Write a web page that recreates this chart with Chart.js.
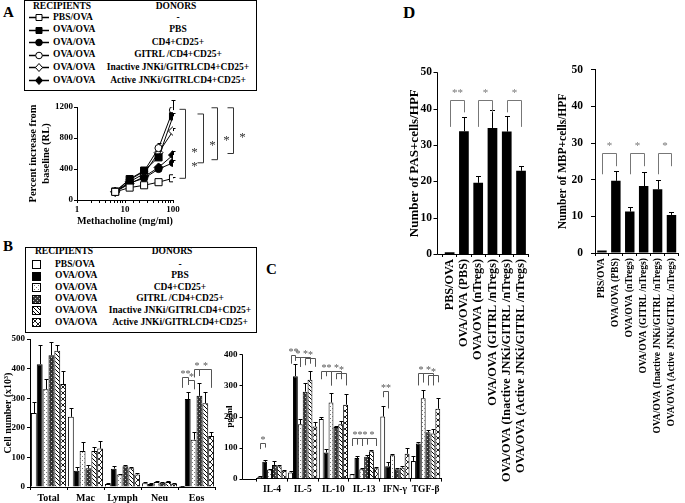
<!DOCTYPE html>
<html>
<head>
<meta charset="utf-8">
<title>Figure - nTregs / JNKi</title>
<script src="https://cdn.jsdelivr.net/npm/chart.js@4.4.1/dist/chart.umd.min.js"></script>
<style>
  body { margin:0; width:685px; height:503px; position:relative; overflow:hidden; background:#fff;
         font-family:'Liberation Serif','Times New Roman',serif; font-weight:bold; color:#000; }
  canvas.panel { position:absolute; }
  .box { position:absolute; border:1px solid #000; box-sizing:border-box; }
  .box span { position:absolute; font-size:9.5px; white-space:nowrap; line-height:1; }
  .box canvas { position:absolute; }
  .tag { position:absolute; font-size:15px; line-height:15px; }
</style>
</head>
<body>
<div class="tag" style="left:3px;top:5px">A</div>
<div class="tag" style="left:3px;top:239px">B</div>
<div class="tag" style="left:266px;top:262px">C</div>
<div class="tag" style="left:403px;top:5px;font-size:17px">D</div>

<div id="legA" class="box" style="left:24px;top:0;width:233px;height:91px"></div>
<div id="legB" class="box" style="left:25px;top:247px;width:232px;height:86px"></div>

<canvas id="chartA" class="panel" width="262" height="134" style="left:0;top:96px"></canvas>
<canvas id="chartB" class="panel" width="232" height="173" style="left:0;top:330px"></canvas>
<canvas id="chartC" class="panel" width="243" height="173" style="left:222px;top:330px"></canvas>
<canvas id="chartPas" class="panel" width="143" height="448" style="left:395px;top:55px"></canvas>
<canvas id="chartMbp" class="panel" width="130" height="448" style="left:555px;top:55px"></canvas>

<script>
// ---- legend text ----
const recipients = ['PBS/OVA', 'OVA/OVA', 'OVA/OVA', 'OVA/OVA', 'OVA/OVA', 'OVA/OVA'];
const donors = ['-', 'PBS', 'CD4+CD25+', 'GITRL /CD4+CD25+', 'Inactive JNKi/GITRLCD4+CD25+', 'Active JNKi/GITRLCD4+CD25+'];

// ---- A: airway resistance vs methacholine ----
const doses = [6.25, 12.5, 25, 50, 100];
const ahrPbsOva   = [105, 160, 190, 230, 280];
const ahrPbs      = [110, 270, 380, 550, 1080];
const ahrCd4      = [105, 220, 280, 400, 480];
const ahrGitrl    = [110, 260, 370, 670, 1160];
const ahrInactive = [105, 235, 340, 610, 890];
const ahrActive   = [105, 210, 300, 420, 580];
const ahrErrPbsOva   = [5, 10, 10, 15, 20];
const ahrErrPbs      = [10, 20, 40, 50, 40];
const ahrErrCd4      = [10, 20, 30, 30, 30];
const ahrErrGitrl    = [10, 20, 50, 60, 130];
const ahrErrInactive = [10, 20, 30, 40, 40];
const ahrErrActive   = [10, 20, 30, 40, 50];

// ---- B: BAL cell counts (x10^3) ----
const cellTypes = ['Total', 'Mac', 'Lymph', 'Neu', 'Eos'];
const cellPbsOva   = [250, 237, 10, 13, 3];
const cellPbs      = [415, 55, 62, 10, 297];
const cellCd4      = [330, 122, 42, 17, 160];
const cellGitrl    = [445, 63, 70, 14, 308];
const cellInactive = [460, 122, 63, 17, 283];
const cellActive   = [348, 130, 42, 11, 172];
const cellErrPbsOva   = [37, 30, 2, 3, 1];
const cellErrPbs      = [65, 12, 10, 2, 25];
const cellErrCd4      = [35, 30, 3, 2, 25];
const cellErrGitrl    = [45, 12, 6, 3, 45];
const cellErrInactive = [20, 12, 6, 3, 38];
const cellErrActive   = [44, 27, 4, 2, 14];

// ---- C: cytokines (pg/ml) ----
const cytokines = ['IL-4', 'IL-5', 'IL-10', 'IL-13', 'IFN-γ', 'TGF-β'];
const cytoPbsOva   = [6, 20, 192, 14, 200, 57];
const cytoPbs      = [54, 330, 84, 66, 40, 113];
const cytoCd4      = [29, 175, 245, 30, 75, 259];
const cytoGitrl    = [44, 280, 166, 70, 30, 149];
const cytoInactive = [40, 318, 175, 88, 35, 145];
const cytoActive   = [25, 168, 238, 33, 80, 225];
const cytoErrPbsOva   = [2, 3, 8, 2, 35, 15];
const cytoErrPbs      = [7, 40, 10, 6, 15, 5];
const cytoErrCd4      = [3, 16, 30, 3, 3, 27];
const cytoErrGitrl    = [12, 28, 4, 5, 4, 6];
const cytoErrInactive = [3, 28, 12, 3, 4, 16];
const cytoErrActive   = [3, 15, 33, 4, 18, 33];

// ---- D: PAS+ and MBP+ cells per HPF ----
const histoGroups = ['PBS/OVA', 'OVA/OVA (PBS)', 'OVA/OVA (nTregs)', 'OVA/OVA (GITRL /nTregs)',
                     'OVA/OVA (Inactive JNKi/GITRL /nTregs)', 'OVA/OVA (Active JNKi/GITRL /nTregs)'];
const pasCells = [0.5, 33.8, 19.6, 34.7, 33.7, 22.9];
const pasErr   = [0, 3.8, 2, 5, 4.3, 1.3];
const mbpCells = [0.7, 19.7, 11.3, 18.3, 17.4, 10.4];
const mbpErr   = [0, 2.7, 1.3, 3.7, 2.5, 0.8];

// ------------------------------------------------------------------
const FONT = "'Liberation Serif', 'Times New Roman', serif";
Chart.defaults.font.family = FONT;
Chart.defaults.font.weight = 'bold';
Chart.defaults.color = '#000';
Chart.defaults.animation = false;

function makePattern(kind) {
  const c = document.createElement('canvas');
  const g = c.getContext('2d');
  const n = kind === 'cross' ? 6 : 4;
  c.width = c.height = n;
  g.fillStyle = kind === 'checker' ? '#333' : '#fff';
  g.fillRect(0, 0, n, n);
  if (kind === 'dots') {
    g.fillStyle = '#777';
    g.fillRect(0, 0, 1, 1); g.fillRect(2, 2, 1, 1);
  } else if (kind === 'checker') {
    g.fillStyle = '#c8c8c8';
    g.fillRect(1, 1, 1, 1); g.fillRect(3, 3, 1, 1);
  } else if (kind === 'diag') {
    g.strokeStyle = '#000'; g.lineWidth = 1;
    g.beginPath();
    g.moveTo(-1, -1); g.lineTo(5, 5);
    g.moveTo(-1, 3); g.lineTo(1, 5);
    g.moveTo(3, -1); g.lineTo(5, 1);
    g.stroke();
  } else if (kind === 'cross') {
    g.strokeStyle = '#000'; g.lineWidth = 0.9;
    g.beginPath();
    g.moveTo(0, 0); g.lineTo(6, 6);
    g.moveTo(6, 0); g.lineTo(0, 6);
    g.stroke();
  }
  return g.createPattern(c, 'repeat');
}

const fills = ['#fff', '#000', makePattern('dots'), makePattern('checker'), makePattern('diag'), makePattern('cross')];
const markers = [
  { shape: 'rect', r: 5, fill: '#fff' },
  { shape: 'rect', r: 5, fill: '#000' },
  { shape: 'circle', r: 3.6, fill: '#000' },
  { shape: 'circle', r: 3.6, fill: '#fff' },
  { shape: 'rectRot', r: 4.5, fill: '#fff' },
  { shape: 'rectRot', r: 4.5, fill: '#000' }
];

// error bars, brackets and detached y axis
const extras = {
  id: 'extras',
  beforeDatasetsDraw(chart) {
    const ctx = chart.ctx, ys = chart.scales.y;
    ctx.save();
    ctx.strokeStyle = '#000';
    ctx.lineWidth = 1;
    chart.data.datasets.forEach((ds, i) => {
      if (!ds.err) return;
      chart.getDatasetMeta(i).data.forEach((el, j) => {
        const e = ds.err[j];
        if (!e) return;
        const x = Math.round(el.x) + 0.5;
        const top = Math.round(ys.getPixelForValue(ds.data[j] + e)) + 0.5;
        const cap = ds.errCap || 2;
        ctx.beginPath();
        ctx.moveTo(x, el.y); ctx.lineTo(x, top);
        ctx.moveTo(x - cap, top); ctx.lineTo(x + cap, top);
        ctx.stroke();
      });
    });
    ctx.restore();
  },
  afterDraw(chart, args, opts) {
    const o = opts || {};
    const ctx = chart.ctx, ca = chart.chartArea, ys = chart.scales.y;
    ctx.save();
    ctx.lineWidth = 1;
    if (o.gap) {
      const xl = Math.round(ca.left - o.gap) + 0.5, yb = Math.round(ca.bottom) + 0.5;
      ctx.strokeStyle = '#000';
      ctx.beginPath();
      ctx.moveTo(xl, ca.top); ctx.lineTo(xl, yb); ctx.lineTo(ca.left, yb);
      ys.ticks.forEach(t => {
        const py = Math.round(ys.getPixelForValue(t.value)) + 0.5;
        ctx.moveTo(xl - o.tick, py); ctx.lineTo(xl, py);
      });
      ctx.stroke();
    }
    const col = o.color || '#555';
    ctx.strokeStyle = col;
    ctx.fillStyle = col;
    ctx.font = (o.starSize || 11) + 'px ' + FONT;
    ctx.textAlign = 'center';
    (o.brackets || []).forEach(b => {
      const xa = Math.round(chart.getDatasetMeta(b.a[0]).data[b.a[1]].x) + 0.5;
      const xb = Math.round(chart.getDatasetMeta(b.b[0]).data[b.b[1]].x) + 0.5;
      const yt = Math.round(ys.getPixelForValue(b.top)) + 0.5;
      ctx.beginPath();
      ctx.moveTo(xa, ys.getPixelForValue(b.la)); ctx.lineTo(xa, yt);
      ctx.lineTo(xb, yt); ctx.lineTo(xb, ys.getPixelForValue(b.lb));
      ctx.stroke();
      ctx.fillText(b.text, (xa + xb) / 2, yt - (o.starGap || 1));
    });
    (o.vbrackets || []).forEach(b => {
      const x = Math.round(ca.right + b.dx) + 0.5;
      const y1 = ys.getPixelForValue(b.top), y2 = ys.getPixelForValue(b.bottom);
      ctx.beginPath();
      ctx.moveTo(x - 6, y1); ctx.lineTo(x, y1); ctx.lineTo(x, y2); ctx.lineTo(x - 6, y2);
      ctx.stroke();
      b.stars.forEach(v => ctx.fillText('*', x + 9, ys.getPixelForValue(v) + 6));
    });
    ctx.restore();
  }
};
Chart.register(extras);

// ---- legends ----
function legendText(box, text, x, y, centered) {
  const s = document.createElement('span');
  s.textContent = text;
  s.style.left = x + 'px';
  s.style.top = y + 'px';
  s.style.transform = centered ? 'translate(-50%,-50%)' : 'translate(0,-50%)';
  box.appendChild(s);
}
function legendSwatch(box, x, y, w, h, paint) {
  const c = document.createElement('canvas');
  c.width = w; c.height = h;
  c.style.left = (x - w / 2) + 'px';
  c.style.top = (y - h / 2) + 'px';
  paint(c.getContext('2d'), w, h);
  box.appendChild(c);
}
function drawMarker(g, m, x, y) {
  g.fillStyle = m.fill; g.strokeStyle = '#000'; g.lineWidth = 1;
  g.beginPath();
  if (m.shape === 'rect') g.rect(x - 3, y - 3, 6, 6);
  else if (m.shape === 'circle') g.arc(x, y, 3.3, 0, Math.PI * 2);
  else { g.moveTo(x, y - 4); g.lineTo(x + 3.5, y); g.lineTo(x, y + 4); g.lineTo(x - 3.5, y); g.closePath(); }
  g.fill(); g.stroke();
}

const legA = document.getElementById('legA');
legendText(legA, 'RECIPIENTS', 8, 6);
legendText(legA, 'DONORS', 151, 6, true);
recipients.forEach((r, i) => {
  const cy = 16.5 + i * 12.6;
  legendSwatch(legA, 14, cy, 20, 11, (g, w, h) => {
    g.strokeStyle = '#000'; g.lineWidth = 1.5;
    g.beginPath(); g.moveTo(0, 5.5); g.lineTo(w, 5.5); g.stroke();
    drawMarker(g, markers[i], 10, 5.5);
  });
  legendText(legA, r, 28, cy);
  legendText(legA, donors[i], 153, cy, true);
});

const legB = document.getElementById('legB');
legendText(legB, 'RECIPIENTS', 9, 4);
legendText(legB, 'DONORS', 146, 4, true);
recipients.forEach((r, i) => {
  const cy = 16.5 + i * 11.6;
  legendSwatch(legB, 10, cy, 9, 9, (g, w, h) => {
    g.fillStyle = fills[i]; g.fillRect(0, 0, w, h);
    g.strokeStyle = '#000'; g.lineWidth = 1; g.strokeRect(0.5, 0.5, w - 1, h - 1);
  });
  legendText(legB, r, 29, cy);
  legendText(legB, donors[i], 154, cy, true);
});

// ---- panel A ----
const ahrSeries = [ahrPbsOva, ahrPbs, ahrCd4, ahrGitrl, ahrInactive, ahrActive];
const ahrErrors = [ahrErrPbsOva, ahrErrPbs, ahrErrCd4, ahrErrGitrl, ahrErrInactive, ahrErrActive];
new Chart(document.getElementById('chartA'), {
  type: 'line',
  data: {
    labels: doses,
    datasets: ahrSeries.map((s, i) => ({
      data: s, err: ahrErrors[i], errCap: 2,
      borderColor: '#000', borderWidth: 1, tension: 0, fill: false,
      pointStyle: markers[i].shape, pointRadius: markers[i].r,
      pointBackgroundColor: markers[i].fill, pointBorderColor: '#000', pointBorderWidth: 1
    }))
  },
  options: {
    responsive: false,
    layout: { padding: { top: 11, right: 89, left: 0, bottom: 0 } },
    plugins: {
      legend: { display: false }, tooltip: { enabled: false },
      extras: {
        color: '#333', starSize: 13,
        vbrackets: [
          { dx: 12, top: 1170, bottom: 280, stars: [650, 460] },
          { dx: 30, top: 1110, bottom: 480, stars: [740] },
          { dx: 44, top: 1190, bottom: 520, stars: [800] },
          { dx: 60, top: 1190, bottom: 600, stars: [840] }
        ]
      }
    },
    scales: {
      x: {
        type: 'logarithmic', min: 1, max: 100,
        afterFit: s => { s.height = 30; },
        border: { color: '#000' },
        grid: { drawOnChartArea: false, color: '#000', tickLength: 3 },
        ticks: { autoSkip: false, maxRotation: 0, font: { size: 9 }, padding: 1,
                 callback: v => ([1, 10, 100].includes(v) ? String(v) : '') },
        title: { display: true, text: 'Methacholine (mg/ml)', font: { size: 10.5 }, padding: { top: 0, bottom: 2 } }
      },
      y: {
        min: 0, max: 1200,
        afterFit: s => { s.width = 77; },
        border: { color: '#000' },
        grid: { drawOnChartArea: false, color: '#000', tickLength: 3 },
        ticks: { stepSize: 400, font: { size: 9 }, padding: 1, callback: v => String(v) },
        title: { display: true, text: ['Percent increase from', 'baseline (RL)'], font: { size: 10.5 },
                 padding: { top: 27, bottom: 0 } }
      }
    }
  }
});

// ---- grouped bars (B, C) ----
function groupedSets(series, errors) {
  return series.map((s, i) => ({
    data: s, err: errors[i], errCap: 2,
    backgroundColor: fills[i], borderColor: '#000', borderWidth: 1,
    categoryPercentage: 0.95, barPercentage: 1
  }));
}

new Chart(document.getElementById('chartB'), {
  type: 'bar',
  data: {
    labels: cellTypes,
    datasets: groupedSets(
      [cellPbsOva, cellPbs, cellCd4, cellGitrl, cellInactive, cellActive],
      [cellErrPbsOva, cellErrPbs, cellErrCd4, cellErrGitrl, cellErrInactive, cellErrActive])
  },
  options: {
    responsive: false,
    layout: { padding: { top: 9, right: 17, left: 0, bottom: 0 } },
    plugins: {
      legend: { display: false }, tooltip: { enabled: false },
      extras: {
        starSize: 10, starGap: 1,
        brackets: [
          { a: [0, 4], b: [1, 4], top: 370, la: 335, lb: 345, text: '**' },
          { a: [1, 4], b: [2, 4], top: 362, la: 345, lb: 330, text: '*' },
          { a: [2, 4], b: [3, 4], top: 397, la: 370, lb: 375, text: '*' },
          { a: [3, 4], b: [5, 4], top: 397, la: 375, lb: 335, text: '*' }
        ]
      }
    },
    scales: {
      x: {
        afterFit: s => { s.height = 16; },
        border: { color: '#000' },
        grid: { drawOnChartArea: false, color: '#000', tickLength: 3 },
        ticks: { font: { size: 10 }, padding: 2, maxRotation: 0, autoSkip: false }
      },
      y: {
        min: 0, max: 500,
        afterFit: s => { s.width = 30; },
        border: { color: '#000' },
        grid: { drawOnChartArea: false, color: '#000', tickLength: 3 },
        ticks: { stepSize: 100, font: { size: 9 }, padding: 2 },
        title: { display: true, text: 'Cell number (x10³)', font: { size: 10 }, padding: { top: 2, bottom: 0 } }
      }
    }
  }
});

new Chart(document.getElementById('chartC'), {
  type: 'bar',
  data: {
    labels: cytokines,
    datasets: groupedSets(
      [cytoPbsOva, cytoPbs, cytoCd4, cytoGitrl, cytoInactive, cytoActive],
      [cytoErrPbsOva, cytoErrPbs, cytoErrCd4, cytoErrGitrl, cytoErrInactive, cytoErrActive])
  },
  options: {
    responsive: false,
    layout: { padding: { top: 10, right: 24, left: 0, bottom: 0 } },
    plugins: {
      legend: { display: false }, tooltip: { enabled: false },
      extras: {
        gap: 14.6, tick: 3, starSize: 10, starGap: 1,
        brackets: [
          { a: [0, 0], b: [1, 0], top: 116, la: 95, lb: 100, text: '*' },
          { a: [0, 1], b: [1, 1], top: 397, la: 370, lb: 380, text: '**' },
          { a: [1, 1], b: [2, 1], top: 392, la: 380, lb: 360, text: '*' },
          { a: [2, 1], b: [4, 1], top: 392, la: 360, lb: 370, text: '*' },
          { a: [3, 1], b: [5, 1], top: 387, la: 365, lb: 360, text: '*' },
          { a: [0, 2], b: [1, 2], top: 345, la: 320, lb: 330, text: '*' },
          { a: [1, 2], b: [2, 2], top: 345, la: 330, lb: 300, text: '*' },
          { a: [2, 2], b: [4, 2], top: 345, la: 300, lb: 320, text: '*' },
          { a: [3, 2], b: [5, 2], top: 340, la: 320, lb: 300, text: '*' },
          { a: [0, 3], b: [1, 3], top: 132, la: 105, lb: 110, text: '*' },
          { a: [1, 3], b: [2, 3], top: 132, la: 110, lb: 105, text: '*' },
          { a: [2, 3], b: [3, 3], top: 132, la: 105, lb: 110, text: '*' },
          { a: [3, 3], b: [5, 3], top: 132, la: 110, lb: 105, text: '*' },
          { a: [0, 4], b: [1, 4], top: 281, la: 262, lb: 226, text: '**' },
          { a: [1, 5], b: [2, 5], top: 340, la: 300, lb: 310, text: '*' },
          { a: [2, 5], b: [4, 5], top: 340, la: 310, lb: 300, text: '*' },
          { a: [3, 5], b: [5, 5], top: 335, la: 300, lb: 310, text: '*' }
        ]
      }
    },
    scales: {
      x: {
        afterFit: s => { s.height = 18; },
        border: { color: '#000' },
        grid: { drawOnChartArea: false, color: '#000', tickLength: 3 },
        ticks: { font: { size: 9.5 }, padding: 2, maxRotation: 0, autoSkip: false }
      },
      y: {
        min: 0, max: 400,
        afterFit: s => { s.width = 34.6; },
        border: { display: false },
        grid: { display: false, drawTicks: false },
        ticks: { stepSize: 100, font: { size: 9 }, padding: 19 },
        title: { display: true, text: 'pg/ml', font: { size: 9 }, padding: { top: 2.6, bottom: 0 } }
      }
    }
  }
});

// ---- panel D ----
function histoChart(id, values, errors, o) {
  return new Chart(document.getElementById(id), {
    type: 'bar',
    data: {
      labels: histoGroups,
      datasets: [{ data: values, err: errors, errCap: 2.5, backgroundColor: '#000',
                   borderWidth: 0, categoryPercentage: 1, barPercentage: 0.68 }]
    },
    options: {
      responsive: false,
      layout: { padding: { top: o.top, right: o.right, left: 0, bottom: 0 } },
      plugins: {
        legend: { display: false }, tooltip: { enabled: false },
        extras: { gap: o.gap, tick: 4, color: '#777', starSize: 11, starGap: 5, brackets: o.brackets }
      },
      scales: {
        x: {
          afterFit: s => { s.height = o.xHeight; },
          border: { color: '#000' },
          grid: { drawOnChartArea: false, color: '#000', tickLength: 3 },
          ticks: { font: { size: o.labelSize }, padding: 2, minRotation: 90, maxRotation: 90, autoSkip: false }
        },
        y: {
          min: 0, max: 50,
          afterFit: s => { s.width = o.yWidth; },
          border: { display: !o.gap, color: '#000' },
          grid: { display: !o.gap, drawTicks: !o.gap, drawOnChartArea: false, color: '#000', tickLength: 4 },
          ticks: { stepSize: 10, font: { size: 11.5 }, padding: o.tickPad },
          title: { display: true, text: o.title, font: { size: o.titleSize }, padding: { top: o.titlePad, bottom: 0 } }
        }
      }
    }
  });
}

histoChart('chartPas', pasCells, pasErr, {
  top: 12.7, right: 4, xHeight: 249, yWidth: 47.5, gap: 5.5, tickPad: 10.5,
  labelSize: 12.2, title: 'Number of PAS+cells/HPF', titleSize: 13, titlePad: 12.2,
  brackets: [
    { a: [0, 0], b: [0, 1], top: 42.3, la: 35, lb: 39, text: '**' },
    { a: [0, 2], b: [0, 3], top: 42.3, la: 35, lb: 39, text: '*' },
    { a: [0, 4], b: [0, 5], top: 42.3, la: 39, lb: 35, text: '*' }
  ]
});

histoChart('chartMbp', mbpCells, mbpErr, {
  top: 11.7, right: 0, xHeight: 250, yWidth: 40, gap: 0, tickPad: 8,
  labelSize: 9.6, title: 'Number of MBP+cells/HPF', titleSize: 11.5, titlePad: 1.1,
  brackets: [
    { a: [0, 0], b: [0, 1], top: 27.2, la: 21.5, lb: 23.7, text: '*' },
    { a: [0, 2], b: [0, 3], top: 27.2, la: 21.5, lb: 23.7, text: '*' },
    { a: [0, 4], b: [0, 5], top: 27.2, la: 21.5, lb: 23.7, text: '*' }
  ]
});
</script>
</body>
</html>
